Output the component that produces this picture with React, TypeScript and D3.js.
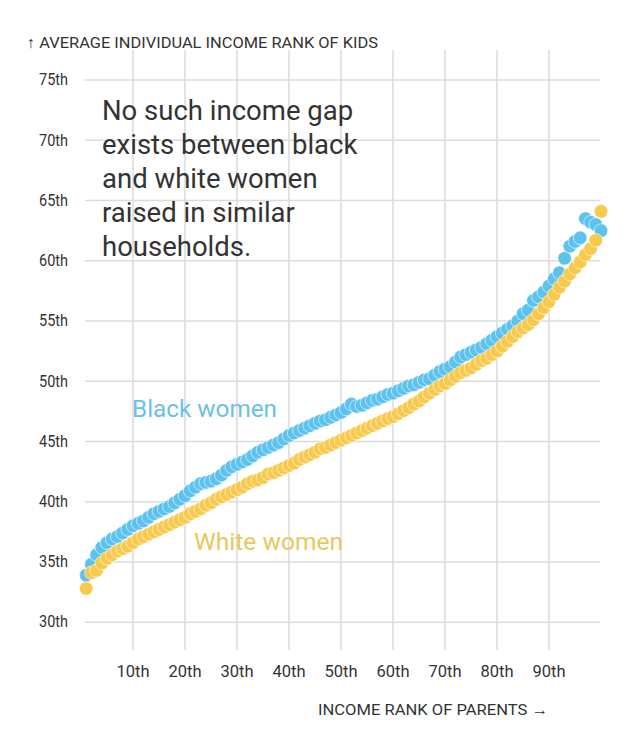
import React from "react";
import * as d3 from "d3";

const parentRanks: number[] = d3.range(1, 101);

const blackWomen: number[] = [
  33.9, 34.8, 35.6, 36.2, 36.6, 36.9, 37.1, 37.4, 37.7, 38.0,
  38.2, 38.4, 38.7, 39.0, 39.2, 39.4, 39.6, 39.9, 40.2, 40.5,
  40.9, 41.2, 41.5, 41.6, 41.7, 41.9, 42.2, 42.6, 42.9, 43.1,
  43.3, 43.5, 43.8, 44.1, 44.3, 44.5, 44.7, 44.9, 45.2, 45.5,
  45.7, 45.9, 46.1, 46.3, 46.5, 46.7, 46.8, 47.0, 47.2, 47.4,
  47.7, 48.1, 47.9, 48.0, 48.2, 48.4, 48.5, 48.7, 48.9, 49.0,
  49.2, 49.4, 49.6, 49.7, 49.9, 50.1, 50.2, 50.5, 50.8, 51.0,
  51.2, 51.6, 52.0, 52.2, 52.4, 52.6, 52.8, 53.1, 53.4, 53.7,
  54.0, 54.3, 54.6, 55.0, 55.6, 55.9, 56.7, 57.0, 57.4, 57.9,
  58.5, 59.0, 60.2, 61.2, 61.6, 61.9, 63.5, 63.2, 63.0, 62.5,
];

const whiteWomen: number[] = [
  32.8, 34.1, 34.3, 34.9, 35.3, 35.6, 35.9, 36.1, 36.3, 36.6,
  36.9, 37.1, 37.3, 37.5, 37.7, 37.9, 38.1, 38.3, 38.5, 38.7,
  39.0, 39.2, 39.4, 39.7, 39.9, 40.2, 40.4, 40.6, 40.8, 41.0,
  41.2, 41.5, 41.7, 41.8, 42.0, 42.3, 42.4, 42.6, 42.8, 43.0,
  43.2, 43.5, 43.7, 43.9, 44.1, 44.4, 44.5, 44.7, 44.9, 45.1,
  45.3, 45.5, 45.7, 45.9, 46.1, 46.3, 46.5, 46.7, 46.9, 47.05,
  47.3, 47.55, 47.8, 48.1, 48.35, 48.7, 49.0, 49.3, 49.6, 49.8,
  50.1, 50.4, 50.7, 50.9, 51.1, 51.4, 51.7, 51.9, 52.2, 52.5,
  52.9, 53.3, 53.7, 54.1, 54.4, 54.7, 55.1, 55.6, 56.1, 56.6,
  57.2, 57.8, 58.3, 58.9, 59.4, 59.9, 60.5, 61.0, 61.7, 64.1,
];

const yTicks: number[] = [30, 35, 40, 45, 50, 55, 60, 65, 70, 75];
const xTicks: number[] = [10, 20, 30, 40, 50, 60, 70, 80, 90];

const annotationLines: string[] = [
  "No such income gap",
  "exists between black",
  "and white women",
  "raised in similar",
  "households.",
];

const yTitle = "↑ AVERAGE INDIVIDUAL INCOME RANK OF KIDS";
const xTitle = "INCOME RANK OF PARENTS →";
const blackLabel = "Black women";
const whiteLabel = "White women";

const BLUE = "#5cc2ee";
const YELLOW = "#f7c94c";
const FONT = "'Roboto', 'Liberation Sans', sans-serif";

export default function App() {
  const width = 640;
  const height = 736;

  const x = d3.scaleLinear().domain([0, 100]).range([81, 601]);
  const y = d3.scaleLinear().domain([30, 75]).range([622.2, 80]);

  const gridLeft = 85;
  const gridRight = 600;
  const gridTop = 50;
  const gridBottom = 650;

  const ord = (v: number) => `${v}th`;

  return (
    <svg
      width={width}
      height={height}
      style={{ position: "absolute", left: 0, top: 0, background: "#fff" }}
      fontFamily={FONT}
    >
      <rect width={width} height={height} fill="#fff" />
      {/* grid */}
      <g stroke="#dcdcdc" strokeWidth={1.6}>
        {yTicks.map((t) => (
          <line key={"h" + t} x1={gridLeft} x2={gridRight} y1={y(t)} y2={y(t)} />
        ))}
        {xTicks.map((t) => (
          <line key={"v" + t} x1={x(t)} x2={x(t)} y1={gridTop} y2={gridBottom} />
        ))}
      </g>

      {/* y tick labels */}
      <g fill="#333" fontSize={16.5} textAnchor="end">
        {yTicks.map((t) => (
          <text key={"yl" + t} x={68} y={y(t)} dy="0.32em" textLength={29} lengthAdjust="spacingAndGlyphs">
            {ord(t)}
          </text>
        ))}
      </g>

      {/* x tick labels */}
      <g fill="#333" fontSize={16.5} textAnchor="middle">
        {xTicks.map((t) => (
          <text key={"xl" + t} x={x(t)} y={677}>
            {ord(t)}
          </text>
        ))}
      </g>

      <text x={27} y={48} fontSize={15.5} fill="#333" textLength={351} lengthAdjust="spacingAndGlyphs">
        {yTitle}
      </text>
      <text x={318} y={715} fontSize={15.5} fill="#333" textLength={230} lengthAdjust="spacingAndGlyphs">
        {xTitle}
      </text>

      {/* annotation */}
      <g fill="#333" fontSize={27.5}>
        {annotationLines.map((l, i) => (
          <text key={"a" + i} x={102} y={120 + i * 34}>
            {l}
          </text>
        ))}
      </g>

      {/* dots */}
      <g>
        {parentRanks.map((p, i) => (
          <circle
            key={"b" + p}
            cx={x(p)}
            cy={y(blackWomen[i])}
            r={6.8}
            fill={BLUE}
            stroke="#fff"
            strokeWidth={0.6}
          />
        ))}
      </g>
      <g>
        {parentRanks.map((p, i) => (
          <circle
            key={"w" + p}
            cx={x(p)}
            cy={y(whiteWomen[i])}
            r={6.8}
            fill={YELLOW}
            stroke="#fff"
            strokeWidth={0.6}
          />
        ))}
      </g>

      <text x={132} y={417} fontSize={23} fill="#6cc0e6" textLength={145} lengthAdjust="spacingAndGlyphs">
        {blackLabel}
      </text>
      <text x={194} y={550} fontSize={23} fill="#e8c85c" textLength={149} lengthAdjust="spacingAndGlyphs">
        {whiteLabel}
      </text>
    </svg>
  );
}
